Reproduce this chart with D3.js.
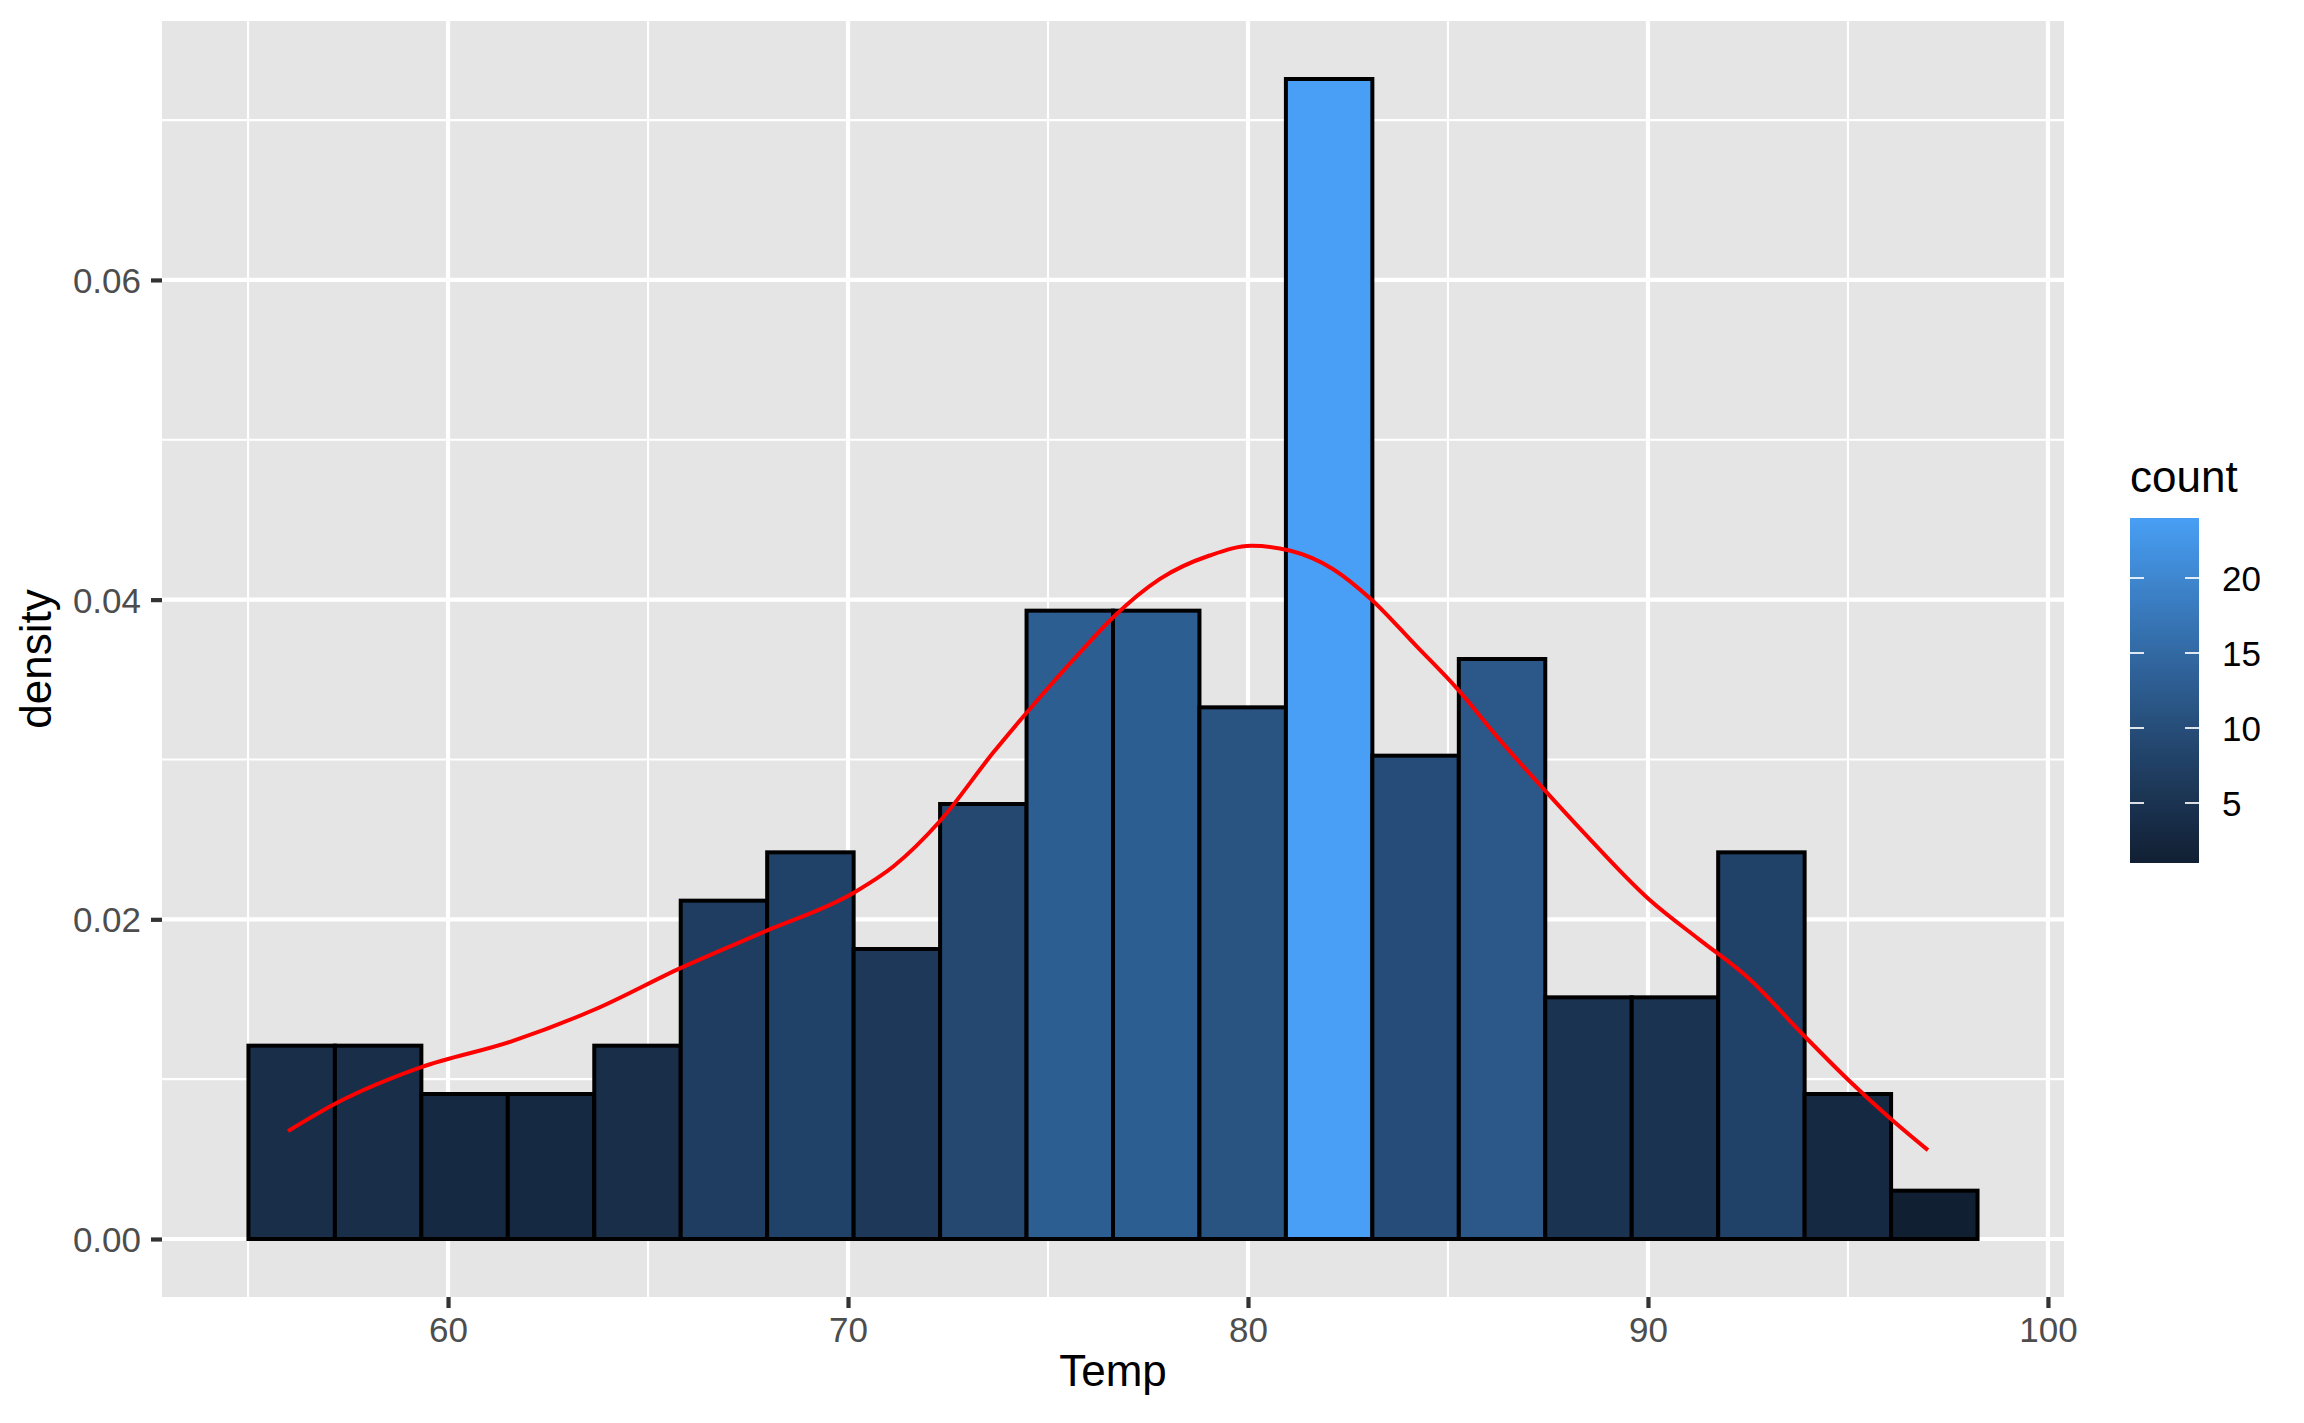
<!DOCTYPE html>
<html>
<head>
<meta charset="utf-8">
<script src="https://cdn.jsdelivr.net/npm/d3@7"></script>
<style>
  html, body { margin: 0; padding: 0; background: #ffffff; }
  svg { display: block; }
  text { font-family: "Liberation Sans", Arial, Helvetica, sans-serif; }
</style>
</head>
<body>
<script>
// ---- data ----
const binStart = 55.01;          // left edge of first bin (Temp)
const binWidth = 2.1615;         // width of each bin
const counts = [4, 4, 3, 3, 4, 7, 8, 6, 9, 13, 13, 11, 24, 10, 12, 5, 5, 8, 3, 1];
const totalN = 153;

const densityX = [56.0, 57.2, 59.33, 61.57, 63.65, 65.81, 67.9,
  70.14, 71.14, 72.3, 73.63, 74.47, 75.8, 76.63, 77.8, 79.04, 80.08, 81.04, 82.12, 83.07,
  84.2, 85.24, 86.28, 87.4, 88.36, 90.03, 91.27, 92.51, 93.84, 95.01, 96.01, 97.0];
const densityY = [0.00675, 0.00849, 0.01075, 0.01235, 0.01434, 0.01695, 0.01922,
  0.02166, 0.02332, 0.02615, 0.03043, 0.03294, 0.0367, 0.0389, 0.0413, 0.04276, 0.04337, 0.04307, 0.04192, 0.04004,
  0.03712, 0.0344, 0.03127, 0.02813, 0.02552, 0.02124, 0.01876, 0.01633, 0.01288, 0.00995, 0.00765, 0.00556];

const xMajor = [60, 70, 80, 90, 100];
const xMinor = [55, 65, 75, 85, 95];
const yMajor = [0, 0.02, 0.04, 0.06];
const yMinor = [0.01, 0.03, 0.05, 0.07];
const legendTicks = [5, 10, 15, 20];

const xTitle = "Temp";
const yTitle = "density";
const legendTitle = "count";

// ---- derived bins ----
const bins = counts.map((c, i) => ({
  x0: binStart + i * binWidth,
  x1: binStart + (i + 1) * binWidth,
  count: c,
  density: c / (totalN * binWidth)
}));

// ---- layout ----
const W = 2304, H = 1423;
const panel = { left: 162, right: 2064, top: 21, bottom: 1297 };

const svg = d3.select("body").append("svg").attr("width", W).attr("height", H);

const xMin = bins[0].x0, xMax = bins[bins.length - 1].x1;
const xPad = (xMax - xMin) * 0.05;
const x = d3.scaleLinear().domain([xMin - xPad, xMax + xPad]).range([panel.left, panel.right]);
const yMaxD = d3.max(bins, d => d.density);
const yPad = yMaxD * 0.05;
const y = d3.scaleLinear().domain([-yPad, yMaxD + yPad]).range([panel.bottom, panel.top]);

const cMin = d3.min(counts), cMax = d3.max(counts);
const color = d3.scaleLinear().domain([cMin, cMax]).range(["#111f33", "#489ff5"]).interpolate(d3.interpolateLab);

// panel background
svg.append("rect")
  .attr("x", panel.left).attr("y", panel.top)
  .attr("width", panel.right - panel.left).attr("height", panel.bottom - panel.top)
  .attr("fill", "#e5e5e5");

const grid = svg.append("g");
grid.selectAll("line.xminor").data(xMinor).join("line")
  .attr("x1", d => x(d)).attr("x2", d => x(d))
  .attr("y1", panel.top).attr("y2", panel.bottom)
  .attr("stroke", "#ffffff").attr("stroke-width", 2.1);
grid.selectAll("line.yminor").data(yMinor).join("line")
  .attr("y1", d => y(d)).attr("y2", d => y(d))
  .attr("x1", panel.left).attr("x2", panel.right)
  .attr("stroke", "#ffffff").attr("stroke-width", 2.1);
grid.selectAll("line.xmajor").data(xMajor).join("line")
  .attr("x1", d => x(d)).attr("x2", d => x(d))
  .attr("y1", panel.top).attr("y2", panel.bottom)
  .attr("stroke", "#ffffff").attr("stroke-width", 4.2);
grid.selectAll("line.ymajor").data(yMajor).join("line")
  .attr("y1", d => y(d)).attr("y2", d => y(d))
  .attr("x1", panel.left).attr("x2", panel.right)
  .attr("stroke", "#ffffff").attr("stroke-width", 4.2);

// bars
svg.append("g").selectAll("rect").data(bins).join("rect")
  .attr("x", d => x(d.x0))
  .attr("width", d => x(d.x1) - x(d.x0))
  .attr("y", d => y(d.density))
  .attr("height", d => y(0) - y(d.density))
  .attr("fill", d => color(d.count))
  .attr("stroke", "#000000")
  .attr("stroke-width", 4);

// density line
const dens = densityX.map((v, i) => [v, densityY[i]]);
svg.append("path")
  .datum(dens)
  .attr("d", d3.line().x(d => x(d[0])).y(d => y(d[1])).curve(d3.curveMonotoneX))
  .attr("fill", "none")
  .attr("stroke", "#ff0000")
  .attr("stroke-width", 4)
  .attr("stroke-linecap", "butt");

// axes
const fmtY = d3.format(".2f");
const xAxis = svg.append("g")
  .attr("transform", `translate(0,${panel.bottom})`)
  .call(d3.axisBottom(x).tickValues(xMajor).tickSize(11).tickPadding(9).tickFormat(d3.format("d")));
const yAxis = svg.append("g")
  .attr("transform", `translate(${panel.left},0)`)
  .call(d3.axisLeft(y).tickValues(yMajor).tickSize(11).tickPadding(9).tickFormat(fmtY));
[xAxis, yAxis].forEach(a => {
  a.select(".domain").remove();
  a.selectAll(".tick line").attr("stroke", "#333333").attr("stroke-width", 4.2);
  a.selectAll(".tick text")
    .attr("fill", "#4d4d4d")
    .style("font-size", "35px")
    .style("font-family", '"Liberation Sans", Arial, Helvetica, sans-serif');
});
xAxis.selectAll(".tick text").attr("dy", null).attr("y", 45);
yAxis.selectAll(".tick text").attr("dy", null).attr("dominant-baseline", null).attr("y", 12.5).attr("x", -21);

// axis titles
svg.append("text")
  .attr("x", (panel.left + panel.right) / 2)
  .attr("y", 1386)
  .attr("text-anchor", "middle")
  .attr("fill", "#000000")
  .style("font-size", "44px")
  .text(xTitle);
svg.append("text")
  .attr("transform", `translate(51,${(panel.top + panel.bottom) / 2}) rotate(-90)`)
  .attr("text-anchor", "middle")
  .attr("fill", "#000000")
  .style("font-size", "44px")
  .text(yTitle);

// legend
const lg = { x: 2130, top: 518, bottom: 863, w: 69 };
const defs = svg.append("defs");
const grad = defs.append("linearGradient").attr("id", "cbar")
  .attr("x1", 0).attr("y1", 1).attr("x2", 0).attr("y2", 0);
d3.range(0, 21).forEach(i => {
  const t = i / 20;
  grad.append("stop").attr("offset", t).attr("stop-color", color(cMin + t * (cMax - cMin)));
});
svg.append("text")
  .attr("x", lg.x).attr("y", 492)
  .attr("fill", "#000000")
  .style("font-size", "44px")
  .text(legendTitle);
svg.append("rect")
  .attr("x", lg.x).attr("y", lg.top)
  .attr("width", lg.w).attr("height", lg.bottom - lg.top)
  .attr("fill", "url(#cbar)");
const ly = d3.scaleLinear().domain([cMin, cMax]).range([lg.bottom, lg.top]);
const lt = svg.append("g");
lt.selectAll("line.l").data(legendTicks).join("line")
  .attr("x1", lg.x).attr("x2", lg.x + 14)
  .attr("y1", d => ly(d)).attr("y2", d => ly(d))
  .attr("stroke", "#ffffff").attr("stroke-opacity", 0.85).attr("stroke-width", 2);
lt.selectAll("line.r").data(legendTicks).join("line")
  .attr("x1", lg.x + lg.w - 14).attr("x2", lg.x + lg.w)
  .attr("y1", d => ly(d)).attr("y2", d => ly(d))
  .attr("stroke", "#ffffff").attr("stroke-opacity", 0.85).attr("stroke-width", 2);
lt.selectAll("text").data(legendTicks).join("text")
  .attr("x", 2222)
  .attr("y", d => ly(d) + 12.5)
  .attr("fill", "#000000")
  .style("font-size", "35px")
  .text(d => d);
</script>
</body>
</html>
